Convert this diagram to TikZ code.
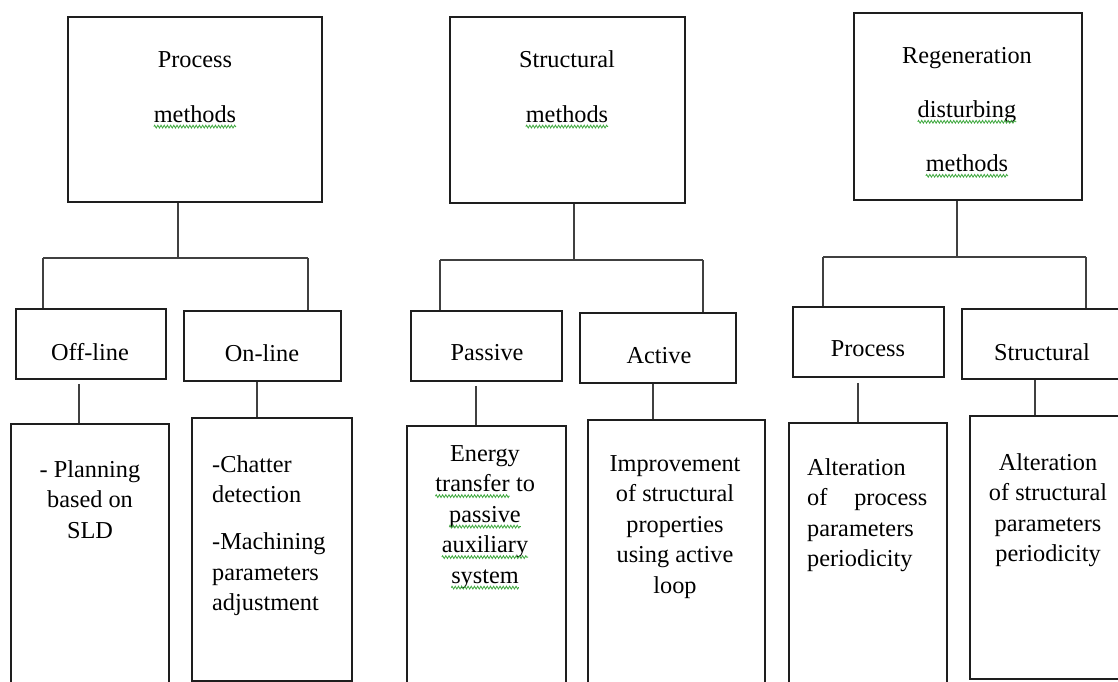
\documentclass[tikz,border=0pt]{standalone}
\usepackage{fontspec}
\setmainfont{Liberation Serif}
\usetikzlibrary{decorations.pathmorphing}

\definecolor{ink}{HTML}{1E1E1E}
\definecolor{spell}{HTML}{3FA83F}

% word with a wavy underline
\newcommand{\wavy}[1]{\tikz[baseline=(w.base)]{%
  \node[inner sep=0pt, outer sep=0pt] (w) {#1};
  \draw[spell, line width=0.8pt, decorate,
        decoration={zigzag, amplitude=1.4pt, segment length=3.2pt}]
    ([yshift=-4.5pt]w.base west) -- ([yshift=-4.5pt]w.base east);}}

\tikzset{
  box/.style={draw=ink, line width=1.6pt, inner sep=0pt,
              minimum width=#1},
  link/.style={draw=ink!85, line width=1.9pt},
  toptext/.style={inner sep=0pt, anchor=north, align=center,
                  font=\fontsize{24.3}{55}\selectfont},
  smalltext/.style={inner sep=0pt, font=\fontsize{24.3}{28}\selectfont},
  bodytext/.style={inner sep=0pt, anchor=north,
                   font=\fontsize{24.3}{30.5}\selectfont},
}

\begin{document}
\begin{tikzpicture}[x=1pt, y=-1pt]
\useasboundingbox (0,0) rectangle (1118,682);
\clip (0,0) rectangle (1118,682);

% ---------- top level boxes ----------
\node[box=254pt, minimum height=185pt] (pm) at (195,109.5) {};
\node[box=235pt, minimum height=186pt] (sm) at (567.5,110) {};
\node[box=228pt, minimum height=187pt] (rm) at (968,106.5) {};

\node[toptext] (pmt) at (195,51) {Process\\\wavy{methods}};
\node[toptext] (smt) at (567,50) {Structural\\\wavy{methods}};
\node[toptext, font=\fontsize{24.3}{54}\selectfont] (rmt) at (967,47)
  {Regeneration\\\wavy{disturbing}\\\wavy{methods}};

% ---------- second level boxes ----------
\node[box=150pt, minimum height=70pt] (off) at (91,344) {};
\node[box=157pt, minimum height=70pt] (on)  at (262.5,346) {};
\node[box=151pt, minimum height=70pt] (pas) at (486.5,346) {};
\node[box=156pt, minimum height=70pt] (act) at (658,348) {};
\node[box=151pt, minimum height=70pt] (pro) at (868.5,342) {};
\node[box=163pt, minimum height=70pt] (str) at (1043.5,344) {};

\node[smalltext] (offt) at (90,352) {Off-line};
\node[smalltext] (ont)  at (262,353) {On-line};
\node[smalltext] (past) at (487,353) {Passive};
\node[smalltext] (actt) at (659,356) {Active};
\node[smalltext] (prot) at (868,349) {Process};
\node[smalltext] (strt) at (1042,352) {Structural};

% ---------- description boxes ----------
\node[box=158pt, minimum height=276pt] (d1) at (90,562) {};
\node[box=160pt, minimum height=263pt] (d2) at (272,549.5) {};
\node[box=159pt, minimum height=274pt] (d3) at (486.5,563) {};
\node[box=177pt, minimum height=280pt] (d4) at (676.5,560) {};
\node[box=158pt, minimum height=277pt] (d5) at (868,561.5) {};
\node[box=160pt, minimum height=263pt] (d6) at (1050,547.5) {};

\node[bodytext, align=center] (d1t) at (90,460)
  {- Planning\\based on\\SLD};
\node[bodytext, align=left, anchor=north west] (d2t) at (212,455)
  {-Chatter\\detection\\[16.5pt]-Machining\\parameters\\adjustment};
\node[bodytext, align=center] (d3t) at (485,445)
  {Energy\\\wavy{transfer} to\\\wavy{passive}\\\wavy{auxiliary}\\\wavy{system}};
\node[bodytext, align=center] (d4t) at (675,455)
  {Improvement\\of structural\\properties\\using active\\loop};
\node[bodytext, align=left, anchor=north west] (d5t) at (807,458)
  {Alteration\\\makebox[120pt][s]{of\hfill process}\\parameters\\periodicity};
\node[bodytext, align=center] (d6t) at (1048,453)
  {Alteration\\of structural\\parameters\\periodicity};

% ---------- branch buses ----------
\coordinate (pbl) at (43,258);   \coordinate (pbr) at (308,258);
\coordinate (sbl) at (440,260);  \coordinate (sbr) at (703,260);
\coordinate (rbl) at (823,257);  \coordinate (rbr) at (1086,257);

\draw[link] ([xshift=-17pt]pm.south) -- ([xshift=-17pt]pm.south |- pbl);
\draw[link] (pbl) -- (pbr);
\draw[link] (pbl) -- (pbl |- off.north);
\draw[link] (pbr) -- (pbr |- on.north);

\draw[link] ([xshift=6.5pt]sm.south) -- ([xshift=6.5pt]sm.south |- sbl);
\draw[link] (sbl) -- (sbr);
\draw[link] (sbl) -- (sbl |- pas.north);
\draw[link] (sbr) -- (sbr |- act.north);

\draw[link] ([xshift=-11pt]rm.south) -- ([xshift=-11pt]rm.south |- rbl);
\draw[link] (rbl) -- (rbr);
\draw[link] (rbl) -- (rbl |- pro.north);
\draw[link] (rbr) -- (rbr |- str.north);

% ---------- links to descriptions ----------
\draw[link] ([xshift=-12pt,yshift=-4pt]off.south) -- ([xshift=-12pt]off.south |- d1.north);
\draw[link] ([xshift=-5.5pt]on.south) -- ([xshift=-5.5pt]on.south |- d2.north);
\draw[link] ([xshift=-10.5pt,yshift=-4pt]pas.south) -- ([xshift=-10.5pt]pas.south |- d3.north);
\draw[link] ([xshift=-5pt]act.south) -- ([xshift=-5pt]act.south |- d4.north);
\draw[link] ([xshift=-10.5pt,yshift=-5pt]pro.south) -- ([xshift=-10.5pt]pro.south |- d5.north);
\draw[link] ([xshift=-8.5pt]str.south) -- ([xshift=-8.5pt]str.south |- d6.north);
\end{tikzpicture}
\end{document}
